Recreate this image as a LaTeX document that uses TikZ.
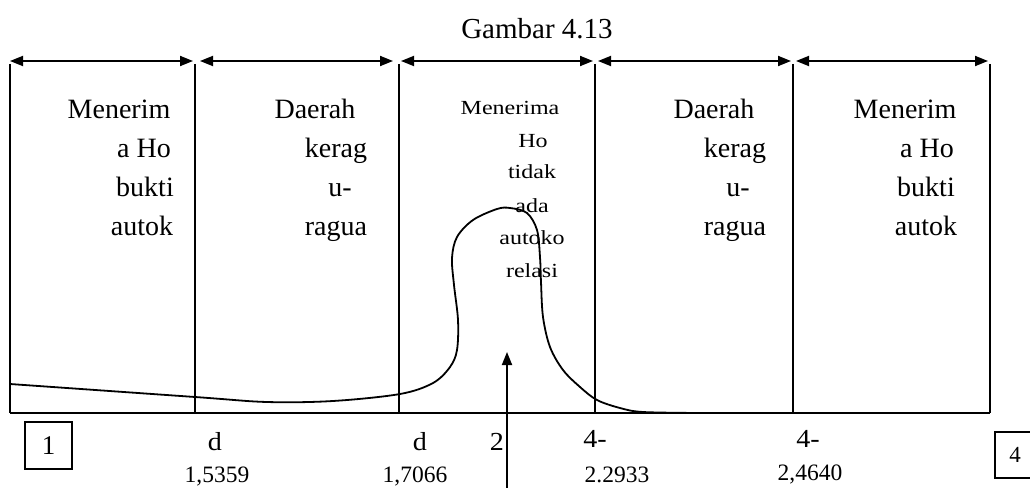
\documentclass[tikz,border=0pt]{standalone}
\usepackage{fontspec}
\setmainfont{Liberation Serif}
\newfontfamily\widefont[FakeStretch=1.2]{Liberation Serif}
\newfontfamily\midfont[FakeStretch=1.08]{Liberation Serif}
\usetikzlibrary{arrows.meta}
\tikzset{
  mytip/.tip={Triangle[length=13pt,width=10pt]},
  dimline/.style={mytip-mytip, line width=1.8pt},
  wall/.style={line width=2pt},
  curve/.style={line width=1.8pt},
  cell/.style={font=\fontsize{28}{30}\selectfont, anchor=base, inner sep=0pt},
  midcell/.style={font=\widefont\fontsize{20}{22}\selectfont, anchor=base, inner sep=0pt},
  title/.style={font=\fontsize{29}{31}\selectfont, anchor=base, inner sep=0pt},
  axlab/.style={font=\midfont\fontsize{26}{28}\selectfont, anchor=base, inner sep=0pt},
  numlab/.style={font=\fontsize{23.5}{26}\selectfont, anchor=base, inner sep=0pt},
  boxlab/.style={draw, line width=1.4pt, inner sep=0pt}
}
\begin{document}
\begin{tikzpicture}[x=1pt,y=-1pt]
\useasboundingbox (0,0) rectangle (1030,487);

% title
\node[title] (title) at (537,38) {Gambar 4.13};

% vertical walls
\foreach \i/\x in {0/10,1/195,2/399,3/595,4/793,5/990}{
  \coordinate (t\i) at (\x,64);
  \coordinate (b\i) at (\x,413);
}
\foreach \i in {0,...,5}{ \draw[wall] (t\i) -- (b\i); }
\draw[wall] (b0) -- (b5);

% top dimension arrows
\coordinate (a1l) at (10,61);  \coordinate (a1r) at (193,61);
\coordinate (a2l) at (200,61); \coordinate (a2r) at (393,61);
\coordinate (a3l) at (401,61); \coordinate (a3r) at (593,61);
\coordinate (a4l) at (598,61); \coordinate (a4r) at (791,61);
\coordinate (a5l) at (796,61); \coordinate (a5r) at (988,61);
\draw[dimline] (a1l) -- (a1r);
\draw[dimline] (a2l) -- (a2r);
\draw[dimline] (a3l) -- (a3r);
\draw[dimline] (a4l) -- (a4r);
\draw[dimline] (a5l) -- (a5r);

% cell 1
\node[cell] (c1a) at (119,118) {Menerim};
\node[cell] (c1b) at (144,157) {a Ho};
\node[cell] (c1c) at (145,196) {bukti};
\node[cell] (c1d) at (142,235) {autok};
% cell 2
\node[cell] (c2a) at (315,118) {Daerah};
\node[cell] (c2b) at (336,157) {kerag};
\node[cell] (c2c) at (340,196) {u-};
\node[cell] (c2d) at (336,235) {ragua};
% cell 3
\node[midcell] (c3a) at (510,114) {Menerima};
\node[midcell] (c3b) at (533,147) {Ho};
\node[midcell] (c3c) at (532,178) {tidak};
\node[midcell] (c3d) at (532,212) {ada};
\node[midcell] (c3e) at (532,244) {autoko};
\node[midcell] (c3f) at (532,277) {relasi};
% cell 4
\node[cell] (c4a) at (714,118) {Daerah};
\node[cell] (c4b) at (735,157) {kerag};
\node[cell] (c4c) at (738,196) {u-};
\node[cell] (c4d) at (735,235) {ragua};
% cell 5
\node[cell] (c5a) at (905,118) {Menerim};
\node[cell] (c5b) at (927,157) {a Ho};
\node[cell] (c5c) at (926,196) {bukti};
\node[cell] (c5d) at (926,235) {autok};

% distribution curve
\draw[curve] plot[smooth, tension=0.55] coordinates {
  (10,384) (195,397) (267,402) (333,401) (400,394) (433,383) (450,367)
  (457,350) (458,320) (454,285) (452,258) (457,237) (473,220) (497,209)
  (510,208) (527,213) (537,230) (540,257) (541,282) (543,317) (550,347)
  (563,370) (580,387) (597,400) (620,408) (643,412) (700,413)};

% vertical arrow
\coordinate (arrS) at (507,495);
\coordinate (arrT) at (507,352);
\draw[line width=1.8pt, -mytip] (arrS) -- (arrT);

% bottom labels
\node[boxlab, minimum width=47pt, minimum height=47pt, font=\fontsize{27}{29}\selectfont] (box1) at (48.5,445.5) {1};
\node[boxlab, minimum width=40pt, minimum height=46pt, font=\fontsize{23}{25}\selectfont] (box4) at (1015,455) {4};
\node[axlab] (d1) at (215,450) {d};
\node[axlab] (d2) at (420,450) {d};
\node[axlab] (two) at (497,450) {2};
\node[axlab] (f1) at (595,447) {4-};
\node[axlab] (f2) at (808,447) {4-};
\node[numlab] (n1) at (217,482) {1,5359};
\node[numlab] (n2) at (415,482) {1,7066};
\node[numlab] (n3) at (617,482) {2.2933};
\node[numlab] (n4) at (810,480) {2,4640};
\end{tikzpicture}
\end{document}
